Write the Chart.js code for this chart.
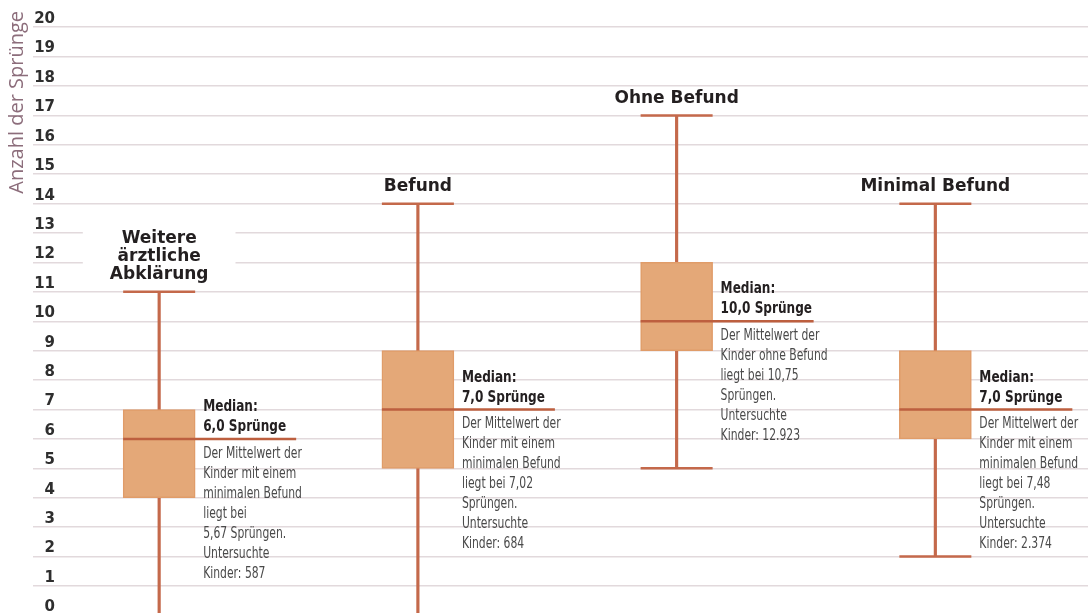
<!DOCTYPE html>
<html lang="de">
<head>
<meta charset="utf-8">
<title>Anzahl der Sprünge</title>
<script src="https://cdn.jsdelivr.net/npm/chart.js@4.4.1/dist/chart.umd.min.js"></script>
<style>
    html, body { margin: 0; padding: 0; background: #fff; }
    canvas { display: block; }
</style>
</head>
<body>
<canvas id="grafico" width="1088" height="613"></canvas>
<script>
// Gruppen (Befund-Kategorien)
const kategorien = ['Weitere ärztliche Abklärung', 'Befund', 'Ohne Befund', 'Minimal Befund'];
const titelZeilen = [['Weitere', 'ärztliche', 'Abklärung'], ['Befund'], ['Ohne Befund'], ['Minimal Befund']];

// Boxplot-Werte (Anzahl der Sprünge)
const minimum = [0, 0, 5, 2];
const quartil1 = [4, 5, 9, 6];
const median = [6, 7, 10, 7];
const quartil3 = [7, 9, 12, 9];
const maximum = [11, 14, 17, 14];

// Beschriftung der y-Achse
const yTicks = [0, 1, 2, 3, 4, 5, 6, 7, 8, 9, 10, 11, 12, 13, 14, 15, 16, 17, 18, 19, 20];

// Erläuterungen neben den Boxen
const notizen = [
    ['Der Mittelwert der', 'Kinder mit einem', 'minimalen Befund', 'liegt bei', '5,67 Sprüngen.', 'Untersuchte', 'Kinder: 587'],
    ['Der Mittelwert der', 'Kinder mit einem', 'minimalen Befund', 'liegt bei 7,02', 'Sprüngen.', 'Untersuchte', 'Kinder: 684'],
    ['Der Mittelwert der', 'Kinder ohne Befund', 'liegt bei 10,75', 'Sprüngen.', 'Untersuchte', 'Kinder: 12.923'],
    ['Der Mittelwert der', 'Kinder mit einem', 'minimalen Befund', 'liegt bei 7,48', 'Sprüngen.', 'Untersuchte', 'Kinder: 2.374']
];

const FARBE_BOX = '#e4a878';
const FARBE_RAND = '#e09c69';
const FARBE_LINIE = '#c4694b';
const FARBE_MEDIAN = '#bd5f3f';
const SCHMAL = "'DejaVu Sans Condensed', 'Liberation Sans Narrow', sans-serif";

const boxDaten = kategorien.map((k, i) => ({ x: i, y: [quartil1[i], quartil3[i]] }));
const whiskerDaten = kategorien.map((k, i) => ({ x: i, y: [minimum[i], maximum[i]] }));
const kappenDaten = kategorien.flatMap((k, i) => [{ x: i, y: maximum[i] }, { x: i, y: minimum[i] }]);

// schmalen Text zeichnen (horizontal gestaucht wie die Vorlage)
function schmalerText(ctx, text, x, y, stauchung) {
    ctx.save();
    ctx.translate(x, y);
    ctx.scale(stauchung, 1);
    ctx.fillText(text, 0, 0);
    ctx.restore();
}

const beschriftung = {
    id: 'beschriftung',
    beforeDatasetsDraw(chart) {
        // weisser Hintergrund hinter mehrzeiligen Titeln
        const { ctx, scales: { x, y } } = chart;
        ctx.save();
        ctx.font = "bold 17px 'DejaVu Sans'";
        titelZeilen.forEach((zeilen, i) => {
            if (zeilen.length < 2) return;
            const px = x.getPixelForValue(i);
            const unten = y.getPixelForValue(maximum[i]) - 17;
            const oben = unten - (zeilen.length - 1) * 18;
            const breite = Math.max(...zeilen.map(z => ctx.measureText(z).width)) + 54;
            ctx.fillStyle = '#ffffff';
            ctx.fillRect(px - breite / 2, oben - 14, breite, unten - oben + 24);
        });
        ctx.restore();
    },
    afterDatasetsDraw(chart) {
        const { ctx, scales: { x, y } } = chart;
        ctx.save();
        kategorien.forEach((k, i) => {
            const px = x.getPixelForValue(i);
            const py = y.getPixelForValue(median[i]);

            // Medianlinie
            ctx.strokeStyle = FARBE_MEDIAN;
            ctx.lineWidth = 2.5;
            ctx.beginPath();
            ctx.moveTo(px - 36, py);
            ctx.lineTo(px + 137, py);
            ctx.stroke();

            // Titel ueber dem Whisker
            ctx.fillStyle = '#231f20';
            ctx.font = "bold 17px 'DejaVu Sans'";
            ctx.textAlign = 'center';
            ctx.textBaseline = 'middle';
            const zeilen = titelZeilen[i];
            const unten = y.getPixelForValue(maximum[i]) - 17;
            zeilen.forEach((z, j) => {
                ctx.fillText(z, px, unten - (zeilen.length - 1 - j) * 18);
            });

            // Median-Text
            ctx.textAlign = 'left';
            ctx.font = 'bold 16px ' + SCHMAL;
            schmalerText(ctx, 'Median:', px + 44, py - 32, 0.84);
            schmalerText(ctx, median[i].toFixed(1).replace('.', ',') + ' Sprünge', px + 44, py - 12, 0.84);

            // Erlaeuterung
            ctx.fillStyle = '#4a4a4a';
            ctx.font = '15px ' + SCHMAL;
            notizen[i].forEach((z, j) => {
                schmalerText(ctx, z, px + 44, py + 15 + j * 20, 0.8);
            });
        });
        ctx.restore();
    }
};

const ctx = document.getElementById('grafico').getContext('2d');
const grafico = new Chart(ctx, {
    type: 'bar',
    data: {
        datasets: [
            {
                label: 'Quartile',
                data: boxDaten,
                backgroundColor: FARBE_BOX,
                borderColor: FARBE_RAND,
                borderWidth: 1.5,
                borderSkipped: false,
                barThickness: 72,
                grouped: false
            },
            {
                label: 'Spannweite',
                data: whiskerDaten,
                backgroundColor: FARBE_LINIE,
                borderWidth: 0,
                barThickness: 2.5,
                grouped: false
            },
            {
                type: 'line',
                label: 'Kappen',
                data: kappenDaten,
                showLine: false,
                pointStyle: 'line',
                pointRadius: 36,
                pointBorderWidth: 2.5,
                pointBorderColor: FARBE_LINIE,
                clip: 0
            }
        ]
    },
    options: {
        responsive: false,
        animation: false,
        events: [],
        layout: { autoPadding: false, padding: { top: 11, left: 0, right: 0, bottom: 0 } },
        plugins: {
            legend: { display: false },
            tooltip: { enabled: false }
        },
        scales: {
            x: {
                type: 'linear',
                display: false,
                offset: false,
                min: -0.391,
                max: 3.59
            },
            y: {
                min: 0.08,
                max: 20.55,
                afterBuildTicks: (scale) => {
                    scale.ticks = yTicks.map(v => ({ value: v }));
                },
                afterFit: (scale) => {
                    scale.width = 58;
                    scale.paddingTop = 0;
                    scale.paddingBottom = 0;
                },
                border: { display: false },
                grid: {
                    color: '#e2d9dc',
                    lineWidth: 1.5,
                    tickLength: 25
                },
                ticks: {
                    autoSkip: false,
                    padding: -22,
                    labelOffset: -8,
                    crossAlign: 'near',
                    color: '#2e2e2e',
                    font: { family: 'DejaVu Sans', weight: 'bold', size: 15 }
                },
                title: {
                    display: true,
                    text: 'Anzahl der Sprünge',
                    align: 'end',
                    color: '#8c6d7b',
                    font: { family: 'Open Sans', size: 20 },
                    padding: { top: 5, bottom: 0 }
                }
            }
        }
    },
    plugins: [beschriftung]
});
</script>
</body>
</html>
